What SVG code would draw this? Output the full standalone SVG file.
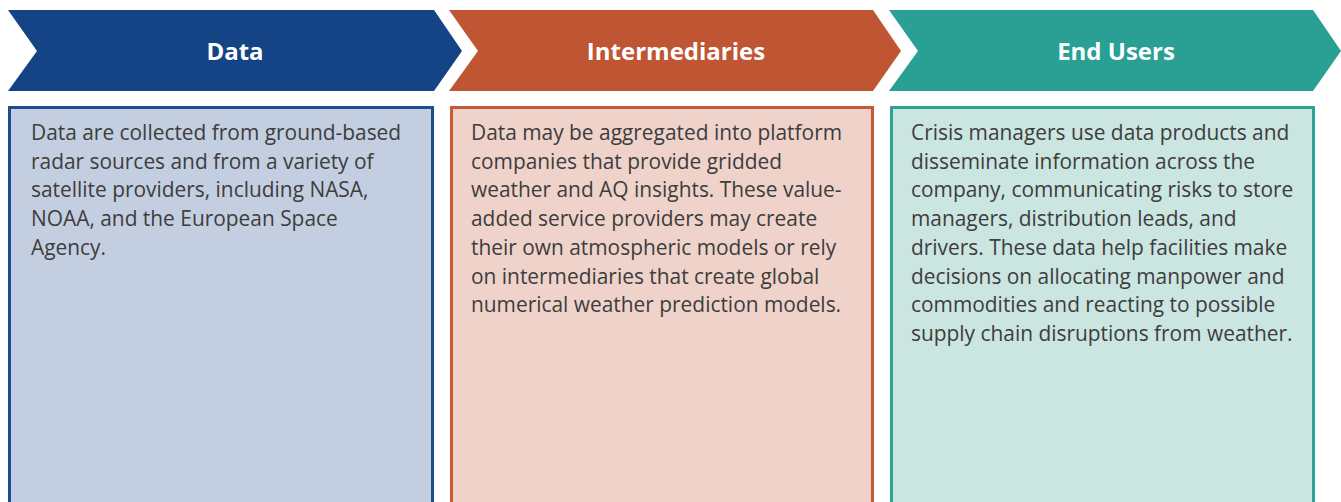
<svg xmlns="http://www.w3.org/2000/svg" width="1341" height="502" viewBox="0 0 1341 502">
<style>
.hdr{font-family:"Open Sans","Noto Sans",sans-serif;font-weight:bold;font-size:24px;fill:#ffffff;text-anchor:middle}
.body{font-family:"Open Sans","Noto Sans",sans-serif;font-size:20.9px;fill:#3d3d3d}
.box{stroke-width:3}
</style>
<rect width="1341" height="502" fill="#ffffff"/>
<g id="data">
<polygon points="8,10 434,10 462,51 434,91 8,91 37,51" fill="#144486"/>
<text class="hdr" x="235" y="60">Data</text>
<rect class="box" x="9.5" y="107.5" width="423" height="410" fill="#C3CFE0" stroke="#1F4E8F"/>
<text class="body">
<tspan x="31" y="140">Data are collected from ground-based</tspan>
<tspan x="31" y="168.7">radar sources and from a variety of</tspan>
<tspan x="31" y="197.4">satellite providers, including NASA,</tspan>
<tspan x="31" y="226.1">NOAA, and the European Space</tspan>
<tspan x="31" y="254.8">Agency.</tspan>
</text>
</g>
<g id="intermediaries">
<polygon points="449,10 873,10 901,51 873,91 449,91 478,51" fill="#C05533"/>
<text class="hdr" x="676" y="60">Intermediaries</text>
<rect class="box" x="451.5" y="107.5" width="421" height="410" fill="#EFD3CA" stroke="#C55A35"/>
<text class="body">
<tspan x="471" y="140">Data may be aggregated into platform</tspan>
<tspan x="471" y="168.7">companies that provide gridded</tspan>
<tspan x="471" y="197.4">weather and AQ insights. These value-</tspan>
<tspan x="471" y="226.1">added service providers may create</tspan>
<tspan x="471" y="254.8">their own atmospheric models or rely</tspan>
<tspan x="471" y="283.5">on intermediaries that create global</tspan>
<tspan x="471" y="312.2">numerical weather prediction models.</tspan>
</text>
</g>
<g id="end-users">
<polygon points="889,10 1313,10 1341,51 1313,91 889,91 918,51" fill="#29A093"/>
<text class="hdr" x="1116" y="60">End Users</text>
<rect class="box" x="891.5" y="107.5" width="422" height="410" fill="#CBE5E1" stroke="#2CA394"/>
<text class="body">
<tspan x="911" y="140">Crisis managers use data products and</tspan>
<tspan x="911" y="168.7">disseminate information across the</tspan>
<tspan x="911" y="197.4">company, communicating risks to store</tspan>
<tspan x="911" y="226.1">managers, distribution leads, and</tspan>
<tspan x="911" y="254.8">drivers. These data help facilities make</tspan>
<tspan x="911" y="283.5">decisions on allocating manpower and</tspan>
<tspan x="911" y="312.2">commodities and reacting to possible</tspan>
<tspan x="911" y="340.9">supply chain disruptions from weather.</tspan>
</text>
</g>
<g id="connectors"></g>
</svg>
